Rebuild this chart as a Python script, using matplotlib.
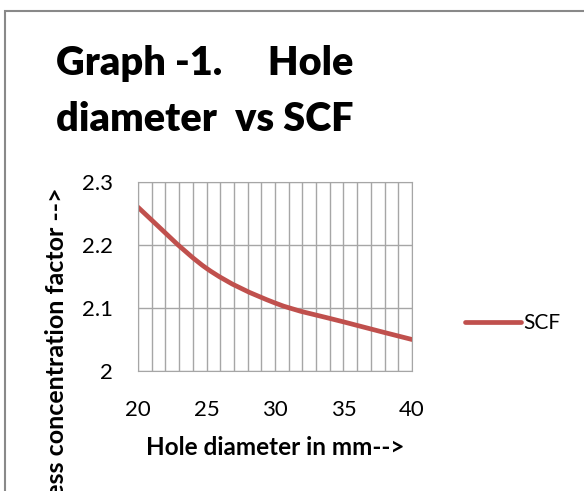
import matplotlib.pyplot as plt
from matplotlib.path import Path
from matplotlib.patches import PathPatch, Rectangle
from matplotlib.lines import Line2D

# hole diameter (mm) and stress concentration factor
hole_dia = [20, 25, 30, 35, 40]
scf = [2.26, 2.163, 2.108, 2.078, 2.05]
x_ticks = [20, 25, 30, 35, 40]
y_ticks = [2.0, 2.1, 2.2, 2.3]
y_ticklabels = ["2", "2.1", "2.2", "2.3"]

red = "#c0504d"
grid_c = "#a6a6a6"
font = ["Lato", "DejaVu Sans"]

fig = plt.figure(figsize=(5.84, 4.91), dpi=100)
W, H = 584, 491

# outer chart border (cropped at right and bottom)
fig.patches.append(Rectangle((5 / W, -0.1), 1.2, (H - 10.5) / H + 0.1,
                             transform=fig.transFigure, fill=False,
                             edgecolor="#898989", linewidth=1.5))

ax = fig.add_axes([138 / W, 1 - 371 / H, 274 / W, 189 / H])
ax.set_xlim(20, 40)
ax.set_ylim(2.0, 2.3)
ax.set_xticks(range(20, 41), minor=True)
ax.set_xticks(x_ticks)
ax.set_yticks(y_ticks)
ax.set_yticklabels(y_ticklabels)
ax.grid(True, which="both", axis="x", color=grid_c, linewidth=1)
ax.grid(True, which="major", axis="y", color=grid_c, linewidth=1)
ax.tick_params(which="both", length=0, labelsize=16)
ax.tick_params(axis="x", pad=21)
ax.tick_params(axis="y", pad=18)
for lab in ax.get_xticklabels() + ax.get_yticklabels():
    lab.set_family(font)
for s in ax.spines.values():
    s.set_color(grid_c)
ax.set_axisbelow(True)

# smooth curve through the points (Catmull-Rom as cubic bezier)
pts = list(zip(hole_dia, scf))
verts = [pts[0]]
codes = [Path.MOVETO]
for i in range(len(pts) - 1):
    p0 = pts[i - 1] if i > 0 else pts[i]
    p1 = pts[i]
    p2 = pts[i + 1]
    p3 = pts[i + 2] if i + 2 < len(pts) else pts[i + 1]
    c1 = (p1[0] + (p2[0] - p0[0]) / 6, p1[1] + (p2[1] - p0[1]) / 6)
    c2 = (p2[0] - (p3[0] - p1[0]) / 6, p2[1] - (p3[1] - p1[1]) / 6)
    verts += [c1, c2, p2]
    codes += [Path.CURVE4] * 3
ax.add_patch(PathPatch(Path(verts, codes), facecolor="none", edgecolor=red,
                       linewidth=3.4, capstyle="round", joinstyle="round"))

ax.set_xlabel("Hole diameter in mm-->", fontsize=17.5, fontweight="bold",
              family=font)
ax.xaxis.set_label_coords(0.5, (371 - 436) / 189)

# y-axis title runs past the bottom edge of the chart area
fig.text(57 / W, 1 - 187 / H, "Stress concentration factor -->",
         rotation=90, fontsize=18, fontweight="bold", family=font,
         ha="center", va="top")

fig.text(56 / W, 1 - 131 / H, "Graph -1.     Hole\ndiameter  vs SCF",
         fontsize=28.5, fontweight="heavy", family=font, va="baseline",
         linespacing=1.62)

handle = Line2D([], [], color=red, linewidth=3.4, solid_capstyle="round")
fig.legend([handle], ["SCF"], loc="center left",
           bbox_to_anchor=(446 / W, 1 - 323 / H), frameon=False,
           prop={"family": font, "size": 15}, handlelength=2.7,
           handletextpad=0.12)

fig.savefig("out.png", dpi=100)
